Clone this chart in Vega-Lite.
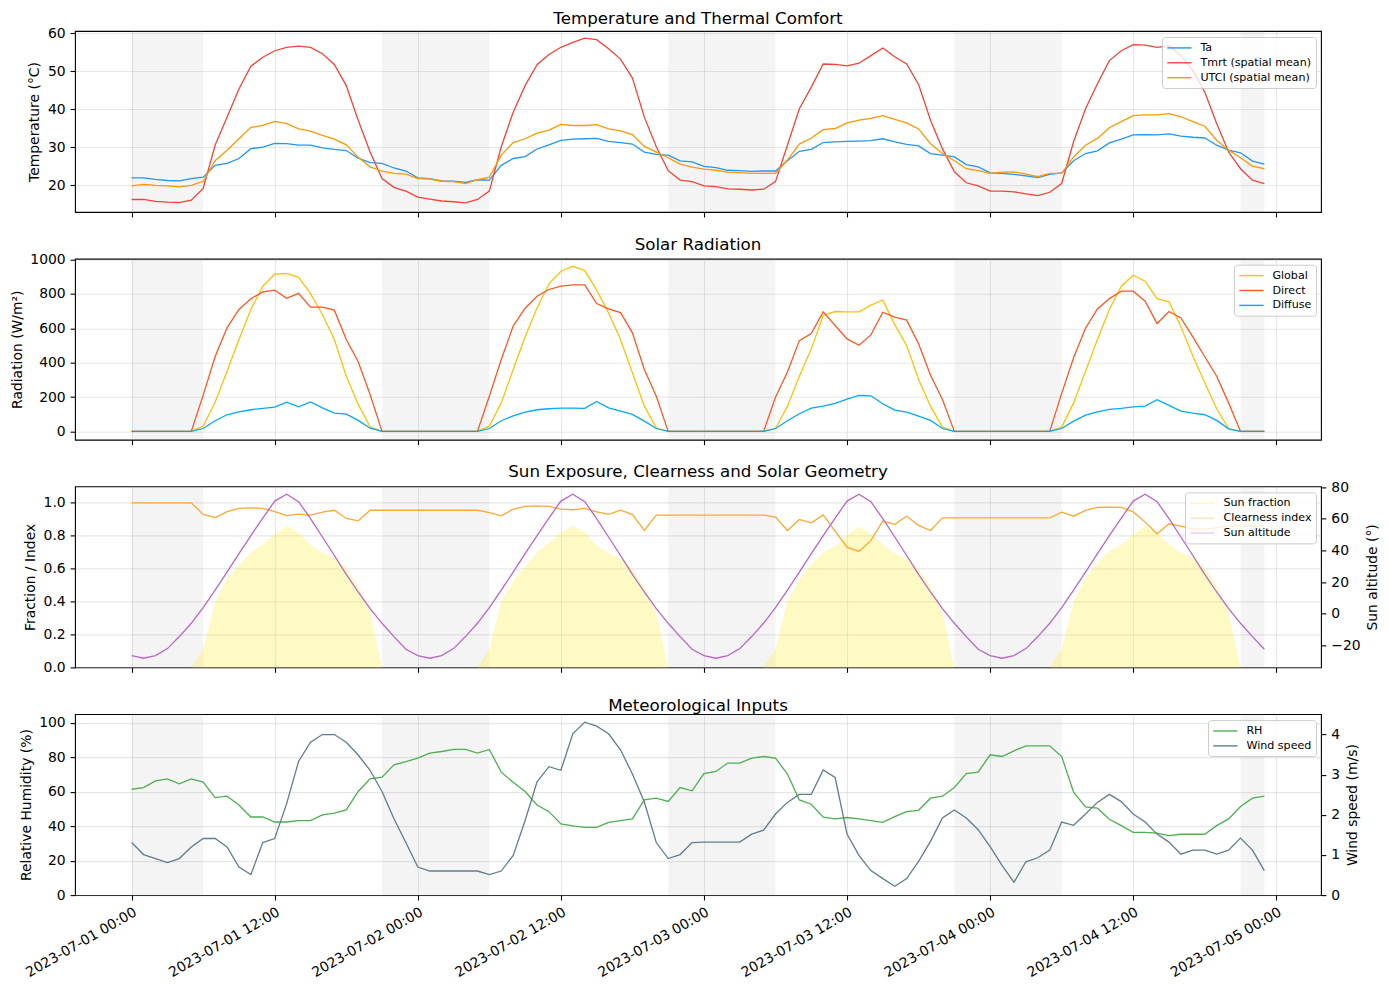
{
"$schema": "https://vega.github.io/schema/vega-lite/v6.json",
"padding": {"left": 9, "top": 10, "right": 5, "bottom": 5},
"spacing": 46.7,
"bounds": "flush",
"resolve": {"scale": {"color": "independent"}, "legend": {"color": "independent"}},
"datasets": {
"nights": [
{"t": "2023-07-01T00:00", "t2": "2023-07-01T06:00"},
{"t": "2023-07-01T21:00", "t2": "2023-07-02T06:00"},
{"t": "2023-07-02T21:00", "t2": "2023-07-03T06:00"},
{"t": "2023-07-03T21:00", "t2": "2023-07-04T06:00"},
{"t": "2023-07-04T21:00", "t2": "2023-07-04T23:00"}
],
"d": [
{"t":"2023-07-01T00:00","Ta":21.9,"Tmrt":16.2,"UTCI":19.8,"Global":0,"Direct":0,"Diffuse":0,"SunFraction":0,"Clearness":1.0,"SunAlt":-26.5,"RH":61.4,"Wind":1.31},
{"t":"2023-07-01T01:00","Ta":21.9,"Tmrt":16.2,"UTCI":20.2,"Global":0,"Direct":0,"Diffuse":0,"SunFraction":0,"Clearness":1.0,"SunAlt":-28.2,"RH":62.4,"Wind":1.01},
{"t":"2023-07-01T02:00","Ta":21.5,"Tmrt":15.7,"UTCI":19.9,"Global":0,"Direct":0,"Diffuse":0,"SunFraction":0,"Clearness":1.0,"SunAlt":-26.5,"RH":66.3,"Wind":0.91},
{"t":"2023-07-01T03:00","Ta":21.2,"Tmrt":15.5,"UTCI":19.8,"Global":0,"Direct":0,"Diffuse":0,"SunFraction":0,"Clearness":1.0,"SunAlt":-22.1,"RH":67.4,"Wind":0.81},
{"t":"2023-07-01T04:00","Ta":21.1,"Tmrt":15.4,"UTCI":19.5,"Global":0,"Direct":0,"Diffuse":0,"SunFraction":0,"Clearness":1.0,"SunAlt":-14.5,"RH":64.5,"Wind":0.91},
{"t":"2023-07-01T05:00","Ta":21.7,"Tmrt":16.0,"UTCI":19.9,"Global":0,"Direct":0,"Diffuse":0,"SunFraction":0,"Clearness":1.0,"SunAlt":-6.1,"RH":67.4,"Wind":1.20},
{"t":"2023-07-01T06:00","Ta":22.1,"Tmrt":19.1,"UTCI":21.0,"Global":31,"Direct":211,"Diffuse":17,"SunFraction":0.11,"Clearness":0.93,"SunAlt":3.8,"RH":65.5,"Wind":1.41},
{"t":"2023-07-01T07:00","Ta":25.2,"Tmrt":30.5,"UTCI":26.4,"Global":170,"Direct":434,"Diffuse":62,"SunFraction":0.40,"Clearness":0.91,"SunAlt":14.9,"RH":56.6,"Wind":1.41},
{"t":"2023-07-01T08:00","Ta":25.7,"Tmrt":37.9,"UTCI":29.2,"Global":350,"Direct":602,"Diffuse":97,"SunFraction":0.54,"Clearness":0.947,"SunAlt":26.3,"RH":57.4,"Wind":1.20},
{"t":"2023-07-01T09:00","Ta":27.0,"Tmrt":45.3,"UTCI":32.2,"Global":534,"Direct":709,"Diffuse":114,"SunFraction":0.62,"Clearness":0.966,"SunAlt":38.0,"RH":52.3,"Wind":0.70},
{"t":"2023-07-01T10:00","Ta":29.6,"Tmrt":51.3,"UTCI":35.2,"Global":709,"Direct":771,"Diffuse":126,"SunFraction":0.70,"Clearness":0.97,"SunAlt":49.4,"RH":45.3,"Wind":0.51},
{"t":"2023-07-01T11:00","Ta":30.0,"Tmrt":53.7,"UTCI":35.7,"Global":844,"Direct":811,"Diffuse":134,"SunFraction":0.745,"Clearness":0.966,"SunAlt":60.5,"RH":45.3,"Wind":1.31},
{"t":"2023-07-01T12:00","Ta":31.0,"Tmrt":55.4,"UTCI":36.8,"Global":914,"Direct":821,"Diffuse":141,"SunFraction":0.81,"Clearness":0.947,"SunAlt":71.2,"RH":42.4,"Wind":1.41},
{"t":"2023-07-01T13:00","Ta":30.9,"Tmrt":56.3,"UTCI":36.2,"Global":918,"Direct":774,"Diffuse":170,"SunFraction":0.86,"Clearness":0.923,"SunAlt":75.6,"RH":42.4,"Wind":2.28},
{"t":"2023-07-01T14:00","Ta":30.5,"Tmrt":56.6,"UTCI":34.8,"Global":896,"Direct":803,"Diffuse":143,"SunFraction":0.82,"Clearness":0.931,"SunAlt":70.8,"RH":43.2,"Wind":3.33},
{"t":"2023-07-01T15:00","Ta":30.5,"Tmrt":56.3,"UTCI":34.2,"Global":801,"Direct":722,"Diffuse":172,"SunFraction":0.745,"Clearness":0.925,"SunAlt":60.1,"RH":43.2,"Wind":3.81},
{"t":"2023-07-01T16:00","Ta":29.8,"Tmrt":54.6,"UTCI":33.1,"Global":680,"Direct":722,"Diffuse":137,"SunFraction":0.695,"Clearness":0.944,"SunAlt":48.5,"RH":46.5,"Wind":4.0},
{"t":"2023-07-01T17:00","Ta":29.4,"Tmrt":51.8,"UTCI":32.1,"Global":534,"Direct":705,"Diffuse":106,"SunFraction":0.665,"Clearness":0.955,"SunAlt":36.8,"RH":47.5,"Wind":4.0},
{"t":"2023-07-01T18:00","Ta":29.1,"Tmrt":46.2,"UTCI":30.6,"Global":321,"Direct":534,"Diffuse":101,"SunFraction":0.604,"Clearness":0.905,"SunAlt":24.8,"RH":49.4,"Wind":3.81},
{"t":"2023-07-01T19:00","Ta":27.1,"Tmrt":37.1,"UTCI":27.3,"Global":157,"Direct":405,"Diffuse":64,"SunFraction":0.493,"Clearness":0.891,"SunAlt":13.7,"RH":60.1,"Wind":3.49},
{"t":"2023-07-01T20:00","Ta":25.9,"Tmrt":28.7,"UTCI":24.8,"Global":27,"Direct":215,"Diffuse":19,"SunFraction":0.341,"Clearness":0.955,"SunAlt":3.2,"RH":67.4,"Wind":3.11},
{"t":"2023-07-01T21:00","Ta":25.7,"Tmrt":21.7,"UTCI":23.7,"Global":0,"Direct":0,"Diffuse":0,"SunFraction":0,"Clearness":0.955,"SunAlt":-6.1,"RH":68.4,"Wind":2.58},
{"t":"2023-07-01T22:00","Ta":24.5,"Tmrt":19.4,"UTCI":23.1,"Global":0,"Direct":0,"Diffuse":0,"SunFraction":0,"Clearness":0.955,"SunAlt":-14.5,"RH":75.6,"Wind":1.90},
{"t":"2023-07-01T23:00","Ta":23.7,"Tmrt":18.4,"UTCI":22.9,"Global":0,"Direct":0,"Diffuse":0,"SunFraction":0,"Clearness":0.955,"SunAlt":-22.5,"RH":77.5,"Wind":1.31},
{"t":"2023-07-02T00:00","Ta":21.9,"Tmrt":16.8,"UTCI":21.7,"Global":0,"Direct":0,"Diffuse":0,"SunFraction":0,"Clearness":0.955,"SunAlt":-26.5,"RH":79.5,"Wind":0.70},
{"t":"2023-07-02T01:00","Ta":21.7,"Tmrt":16.3,"UTCI":21.6,"Global":0,"Direct":0,"Diffuse":0,"SunFraction":0,"Clearness":0.955,"SunAlt":-28.2,"RH":82.4,"Wind":0.60},
{"t":"2023-07-02T02:00","Ta":21.1,"Tmrt":15.8,"UTCI":21.0,"Global":0,"Direct":0,"Diffuse":0,"SunFraction":0,"Clearness":0.955,"SunAlt":-26.5,"RH":83.3,"Wind":0.60},
{"t":"2023-07-02T03:00","Ta":21.0,"Tmrt":15.6,"UTCI":20.9,"Global":0,"Direct":0,"Diffuse":0,"SunFraction":0,"Clearness":0.955,"SunAlt":-22.1,"RH":84.5,"Wind":0.60},
{"t":"2023-07-02T04:00","Ta":20.7,"Tmrt":15.3,"UTCI":20.4,"Global":0,"Direct":0,"Diffuse":0,"SunFraction":0,"Clearness":0.955,"SunAlt":-14.5,"RH":84.5,"Wind":0.60},
{"t":"2023-07-02T05:00","Ta":21.4,"Tmrt":16.2,"UTCI":21.4,"Global":0,"Direct":0,"Diffuse":0,"SunFraction":0,"Clearness":0.955,"SunAlt":-6.1,"RH":82.4,"Wind":0.60},
{"t":"2023-07-02T06:00","Ta":21.3,"Tmrt":18.4,"UTCI":22.1,"Global":31,"Direct":205,"Diffuse":17,"SunFraction":0.11,"Clearness":0.94,"SunAlt":3.8,"RH":84.5,"Wind":0.51},
{"t":"2023-07-02T07:00","Ta":25.2,"Tmrt":30.1,"UTCI":27.9,"Global":166,"Direct":418,"Diffuse":62,"SunFraction":0.40,"Clearness":0.921,"SunAlt":14.9,"RH":71.3,"Wind":0.60},
{"t":"2023-07-02T08:00","Ta":27.0,"Tmrt":39.2,"UTCI":31.2,"Global":360,"Direct":612,"Diffuse":91,"SunFraction":0.525,"Clearness":0.962,"SunAlt":26.3,"RH":65.5,"Wind":0.99},
{"t":"2023-07-02T09:00","Ta":27.5,"Tmrt":46.2,"UTCI":32.2,"Global":550,"Direct":716,"Diffuse":112,"SunFraction":0.61,"Clearness":0.978,"SunAlt":38.0,"RH":60.1,"Wind":1.86},
{"t":"2023-07-02T10:00","Ta":29.5,"Tmrt":51.7,"UTCI":33.7,"Global":718,"Direct":786,"Diffuse":126,"SunFraction":0.70,"Clearness":0.982,"SunAlt":49.4,"RH":52.3,"Wind":2.82},
{"t":"2023-07-02T11:00","Ta":30.6,"Tmrt":54.4,"UTCI":34.5,"Global":858,"Direct":825,"Diffuse":132,"SunFraction":0.758,"Clearness":0.978,"SunAlt":60.5,"RH":48.4,"Wind":3.20},
{"t":"2023-07-02T12:00","Ta":31.8,"Tmrt":56.3,"UTCI":36.0,"Global":931,"Direct":844,"Diffuse":136,"SunFraction":0.818,"Clearness":0.962,"SunAlt":71.2,"RH":41.3,"Wind":3.11},
{"t":"2023-07-02T13:00","Ta":32.1,"Tmrt":57.6,"UTCI":35.7,"Global":960,"Direct":852,"Diffuse":136,"SunFraction":0.859,"Clearness":0.958,"SunAlt":75.6,"RH":40.1,"Wind":4.02},
{"t":"2023-07-02T14:00","Ta":32.2,"Tmrt":58.7,"UTCI":35.7,"Global":935,"Direct":852,"Diffuse":134,"SunFraction":0.822,"Clearness":0.966,"SunAlt":70.8,"RH":39.3,"Wind":4.31},
{"t":"2023-07-02T15:00","Ta":32.3,"Tmrt":58.3,"UTCI":35.9,"Global":821,"Direct":743,"Diffuse":174,"SunFraction":0.741,"Clearness":0.945,"SunAlt":60.1,"RH":39.3,"Wind":4.21},
{"t":"2023-07-02T16:00","Ta":31.5,"Tmrt":55.9,"UTCI":34.8,"Global":689,"Direct":712,"Diffuse":137,"SunFraction":0.693,"Clearness":0.93,"SunAlt":48.5,"RH":42.2,"Wind":4.02},
{"t":"2023-07-02T17:00","Ta":31.2,"Tmrt":53.2,"UTCI":34.3,"Global":534,"Direct":691,"Diffuse":118,"SunFraction":0.66,"Clearness":0.955,"SunAlt":36.8,"RH":43.2,"Wind":3.62},
{"t":"2023-07-02T18:00","Ta":30.8,"Tmrt":48.2,"UTCI":33.3,"Global":341,"Direct":573,"Diffuse":99,"SunFraction":0.596,"Clearness":0.929,"SunAlt":24.8,"RH":44.2,"Wind":3.02},
{"t":"2023-07-02T19:00","Ta":28.7,"Tmrt":37.9,"UTCI":30.2,"Global":147,"Direct":360,"Diffuse":60,"SunFraction":0.485,"Clearness":0.832,"SunAlt":13.7,"RH":55.2,"Wind":2.32},
{"t":"2023-07-02T20:00","Ta":28.1,"Tmrt":30.1,"UTCI":28.7,"Global":21,"Direct":205,"Diffuse":17,"SunFraction":0.33,"Clearness":0.925,"SunAlt":3.2,"RH":56.2,"Wind":1.31},
{"t":"2023-07-02T21:00","Ta":27.9,"Tmrt":23.8,"UTCI":27.2,"Global":0,"Direct":0,"Diffuse":0,"SunFraction":0,"Clearness":0.925,"SunAlt":-6.1,"RH":54.3,"Wind":0.91},
{"t":"2023-07-02T22:00","Ta":26.4,"Tmrt":21.3,"UTCI":25.5,"Global":0,"Direct":0,"Diffuse":0,"SunFraction":0,"Clearness":0.925,"SunAlt":-14.5,"RH":62.4,"Wind":1.01},
{"t":"2023-07-02T23:00","Ta":26.1,"Tmrt":20.9,"UTCI":24.7,"Global":0,"Direct":0,"Diffuse":0,"SunFraction":0,"Clearness":0.925,"SunAlt":-22.5,"RH":60.5,"Wind":1.31},
{"t":"2023-07-03T00:00","Ta":24.9,"Tmrt":19.8,"UTCI":24.2,"Global":0,"Direct":0,"Diffuse":0,"SunFraction":0,"Clearness":0.925,"SunAlt":-26.5,"RH":70.5,"Wind":1.32},
{"t":"2023-07-03T01:00","Ta":24.6,"Tmrt":19.6,"UTCI":23.9,"Global":0,"Direct":0,"Diffuse":0,"SunFraction":0,"Clearness":0.925,"SunAlt":-28.2,"RH":71.7,"Wind":1.32},
{"t":"2023-07-03T02:00","Ta":23.9,"Tmrt":19.0,"UTCI":23.4,"Global":0,"Direct":0,"Diffuse":0,"SunFraction":0,"Clearness":0.925,"SunAlt":-26.5,"RH":76.6,"Wind":1.32},
{"t":"2023-07-03T03:00","Ta":23.8,"Tmrt":18.9,"UTCI":23.3,"Global":0,"Direct":0,"Diffuse":0,"SunFraction":0,"Clearness":0.925,"SunAlt":-22.1,"RH":76.6,"Wind":1.32},
{"t":"2023-07-03T04:00","Ta":23.6,"Tmrt":18.7,"UTCI":23.1,"Global":0,"Direct":0,"Diffuse":0,"SunFraction":0,"Clearness":0.925,"SunAlt":-14.5,"RH":79.5,"Wind":1.52},
{"t":"2023-07-03T05:00","Ta":23.7,"Tmrt":18.9,"UTCI":23.1,"Global":0,"Direct":0,"Diffuse":0,"SunFraction":0,"Clearness":0.925,"SunAlt":-6.1,"RH":80.4,"Wind":1.62},
{"t":"2023-07-03T06:00","Ta":23.7,"Tmrt":20.9,"UTCI":23.1,"Global":17,"Direct":199,"Diffuse":17,"SunFraction":0.11,"Clearness":0.913,"SunAlt":3.8,"RH":79.5,"Wind":2.02},
{"t":"2023-07-03T07:00","Ta":26.4,"Tmrt":30.5,"UTCI":26.6,"Global":147,"Direct":345,"Diffuse":62,"SunFraction":0.40,"Clearness":0.832,"SunAlt":14.9,"RH":70.2,"Wind":2.31},
{"t":"2023-07-03T08:00","Ta":28.9,"Tmrt":40.1,"UTCI":30.8,"Global":321,"Direct":528,"Diffuse":103,"SunFraction":0.535,"Clearness":0.899,"SunAlt":26.3,"RH":55.2,"Wind":2.51},
{"t":"2023-07-03T09:00","Ta":29.4,"Tmrt":45.8,"UTCI":32.4,"Global":480,"Direct":569,"Diffuse":136,"SunFraction":0.626,"Clearness":0.879,"SunAlt":38.0,"RH":52.7,"Wind":2.51},
{"t":"2023-07-03T10:00","Ta":31.2,"Tmrt":51.9,"UTCI":34.6,"Global":674,"Direct":695,"Diffuse":147,"SunFraction":0.70,"Clearness":0.927,"SunAlt":49.4,"RH":45.2,"Wind":3.12},
{"t":"2023-07-03T11:00","Ta":31.4,"Tmrt":51.8,"UTCI":34.9,"Global":697,"Direct":616,"Diffuse":163,"SunFraction":0.737,"Clearness":0.828,"SunAlt":60.5,"RH":44.2,"Wind":2.93},
{"t":"2023-07-03T12:00","Ta":31.5,"Tmrt":51.4,"UTCI":36.4,"Global":695,"Direct":538,"Diffuse":188,"SunFraction":0.802,"Clearness":0.731,"SunAlt":71.2,"RH":45.0,"Wind":1.52},
{"t":"2023-07-03T13:00","Ta":31.6,"Tmrt":52.1,"UTCI":37.1,"Global":695,"Direct":501,"Diffuse":209,"SunFraction":0.855,"Clearness":0.705,"SunAlt":75.6,"RH":44.2,"Wind":0.99},
{"t":"2023-07-03T14:00","Ta":31.7,"Tmrt":54.1,"UTCI":37.6,"Global":734,"Direct":561,"Diffuse":207,"SunFraction":0.814,"Clearness":0.772,"SunAlt":70.8,"RH":43.2,"Wind":0.61},
{"t":"2023-07-03T15:00","Ta":32.2,"Tmrt":56.1,"UTCI":38.3,"Global":763,"Direct":693,"Diffuse":161,"SunFraction":0.747,"Clearness":0.889,"SunAlt":60.1,"RH":42.2,"Wind":0.41},
{"t":"2023-07-03T16:00","Ta":31.4,"Tmrt":53.8,"UTCI":37.3,"Global":621,"Direct":664,"Diffuse":124,"SunFraction":0.693,"Clearness":0.869,"SunAlt":48.5,"RH":45.5,"Wind":0.22},
{"t":"2023-07-03T17:00","Ta":30.7,"Tmrt":51.9,"UTCI":36.4,"Global":499,"Direct":647,"Diffuse":112,"SunFraction":0.66,"Clearness":0.919,"SunAlt":36.8,"RH":48.4,"Wind":0.41},
{"t":"2023-07-03T18:00","Ta":30.3,"Tmrt":46.5,"UTCI":34.8,"Global":302,"Direct":509,"Diffuse":89,"SunFraction":0.60,"Clearness":0.863,"SunAlt":24.8,"RH":49.2,"Wind":0.84},
{"t":"2023-07-03T19:00","Ta":28.3,"Tmrt":37.1,"UTCI":30.9,"Global":147,"Direct":327,"Diffuse":64,"SunFraction":0.495,"Clearness":0.832,"SunAlt":13.7,"RH":56.2,"Wind":1.34},
{"t":"2023-07-03T20:00","Ta":27.9,"Tmrt":29.6,"UTCI":28.3,"Global":25,"Direct":186,"Diffuse":17,"SunFraction":0.33,"Clearness":0.909,"SunAlt":3.2,"RH":57.4,"Wind":1.92},
{"t":"2023-07-03T21:00","Ta":27.4,"Tmrt":23.5,"UTCI":26.4,"Global":0,"Direct":0,"Diffuse":0,"SunFraction":0,"Clearness":0.909,"SunAlt":-6.1,"RH":62.4,"Wind":2.12},
{"t":"2023-07-03T22:00","Ta":25.4,"Tmrt":20.6,"UTCI":24.3,"Global":0,"Direct":0,"Diffuse":0,"SunFraction":0,"Clearness":0.909,"SunAlt":-14.5,"RH":70.5,"Wind":1.92},
{"t":"2023-07-03T23:00","Ta":24.8,"Tmrt":19.8,"UTCI":23.8,"Global":0,"Direct":0,"Diffuse":0,"SunFraction":0,"Clearness":0.909,"SunAlt":-22.5,"RH":71.3,"Wind":1.63},
{"t":"2023-07-04T00:00","Ta":23.2,"Tmrt":18.4,"UTCI":23.1,"Global":0,"Direct":0,"Diffuse":0,"SunFraction":0,"Clearness":0.909,"SunAlt":-26.5,"RH":81.4,"Wind":1.21},
{"t":"2023-07-04T01:00","Ta":23.1,"Tmrt":18.4,"UTCI":23.4,"Global":0,"Direct":0,"Diffuse":0,"SunFraction":0,"Clearness":0.909,"SunAlt":-28.2,"RH":80.4,"Wind":0.74},
{"t":"2023-07-04T02:00","Ta":22.8,"Tmrt":18.2,"UTCI":23.5,"Global":0,"Direct":0,"Diffuse":0,"SunFraction":0,"Clearness":0.909,"SunAlt":-26.5,"RH":83.7,"Wind":0.32},
{"t":"2023-07-04T03:00","Ta":22.4,"Tmrt":17.7,"UTCI":22.9,"Global":0,"Direct":0,"Diffuse":0,"SunFraction":0,"Clearness":0.909,"SunAlt":-22.1,"RH":86.6,"Wind":0.83},
{"t":"2023-07-04T04:00","Ta":22.0,"Tmrt":17.2,"UTCI":22.2,"Global":0,"Direct":0,"Diffuse":0,"SunFraction":0,"Clearness":0.909,"SunAlt":-14.5,"RH":86.6,"Wind":0.93},
{"t":"2023-07-04T05:00","Ta":22.8,"Tmrt":18.1,"UTCI":23.1,"Global":0,"Direct":0,"Diffuse":0,"SunFraction":0,"Clearness":0.909,"SunAlt":-6.1,"RH":86.6,"Wind":1.12},
{"t":"2023-07-04T06:00","Ta":23.2,"Tmrt":20.4,"UTCI":23.1,"Global":25,"Direct":221,"Diffuse":17,"SunFraction":0.11,"Clearness":0.943,"SunAlt":3.8,"RH":80.4,"Wind":1.82},
{"t":"2023-07-04T07:00","Ta":26.4,"Tmrt":31.4,"UTCI":27.4,"Global":166,"Direct":428,"Diffuse":60,"SunFraction":0.40,"Clearness":0.919,"SunAlt":14.9,"RH":59.7,"Wind":1.74},
{"t":"2023-07-04T08:00","Ta":28.3,"Tmrt":40.1,"UTCI":30.5,"Global":350,"Direct":600,"Diffuse":95,"SunFraction":0.545,"Clearness":0.954,"SunAlt":26.3,"RH":51.2,"Wind":2.02},
{"t":"2023-07-04T09:00","Ta":29.0,"Tmrt":46.7,"UTCI":32.3,"Global":534,"Direct":712,"Diffuse":114,"SunFraction":0.632,"Clearness":0.972,"SunAlt":38.0,"RH":50.4,"Wind":2.31},
{"t":"2023-07-04T10:00","Ta":31.1,"Tmrt":52.8,"UTCI":35.1,"Global":709,"Direct":772,"Diffuse":128,"SunFraction":0.707,"Clearness":0.974,"SunAlt":49.4,"RH":44.0,"Wind":2.51},
{"t":"2023-07-04T11:00","Ta":32.1,"Tmrt":55.4,"UTCI":36.7,"Global":844,"Direct":815,"Diffuse":134,"SunFraction":0.745,"Clearness":0.972,"SunAlt":60.5,"RH":40.3,"Wind":2.33},
{"t":"2023-07-04T12:00","Ta":33.2,"Tmrt":57.0,"UTCI":38.3,"Global":908,"Direct":815,"Diffuse":143,"SunFraction":0.808,"Clearness":0.945,"SunAlt":71.2,"RH":36.4,"Wind":2.02},
{"t":"2023-07-04T13:00","Ta":33.3,"Tmrt":56.9,"UTCI":38.5,"Global":873,"Direct":757,"Diffuse":147,"SunFraction":0.859,"Clearness":0.883,"SunAlt":75.6,"RH":36.4,"Wind":1.82},
{"t":"2023-07-04T14:00","Ta":33.2,"Tmrt":56.3,"UTCI":38.5,"Global":772,"Direct":627,"Diffuse":184,"SunFraction":0.818,"Clearness":0.812,"SunAlt":70.8,"RH":35.9,"Wind":1.52},
{"t":"2023-07-04T15:00","Ta":33.5,"Tmrt":56.7,"UTCI":38.8,"Global":753,"Direct":697,"Diffuse":151,"SunFraction":0.747,"Clearness":0.873,"SunAlt":60.1,"RH":34.5,"Wind":1.32},
{"t":"2023-07-04T16:00","Ta":32.9,"Tmrt":54.1,"UTCI":38.0,"Global":608,"Direct":660,"Diffuse":118,"SunFraction":0.697,"Clearness":0.859,"SunAlt":48.5,"RH":35.3,"Wind":1.02},
{"t":"2023-07-04T17:00","Ta":32.6,"Tmrt":50.2,"UTCI":36.7,"Global":438,"Direct":550,"Diffuse":106,"SunFraction":0.667,"Clearness":0.84,"SunAlt":36.8,"RH":35.3,"Wind":1.12},
{"t":"2023-07-04T18:00","Ta":32.4,"Tmrt":44.5,"UTCI":35.5,"Global":283,"Direct":434,"Diffuse":97,"SunFraction":0.606,"Clearness":0.84,"SunAlt":24.8,"RH":35.3,"Wind":1.12},
{"t":"2023-07-04T19:00","Ta":30.5,"Tmrt":36.2,"UTCI":31.8,"Global":132,"Direct":321,"Diffuse":64,"SunFraction":0.495,"Clearness":0.85,"SunAlt":13.7,"RH":40.3,"Wind":1.02},
{"t":"2023-07-04T20:00","Ta":29.2,"Tmrt":28.7,"UTCI":29.2,"Global":17,"Direct":166,"Diffuse":15,"SunFraction":0.33,"Clearness":0.86,"SunAlt":3.2,"RH":44.2,"Wind":1.12},
{"t":"2023-07-04T21:00","Ta":28.5,"Tmrt":24.3,"UTCI":27.2,"Global":0,"Direct":0,"Diffuse":0,"SunFraction":0,"Clearness":0.86,"SunAlt":-6.1,"RH":51.4,"Wind":1.42},
{"t":"2023-07-04T22:00","Ta":26.3,"Tmrt":21.3,"UTCI":25.0,"Global":0,"Direct":0,"Diffuse":0,"SunFraction":0,"Clearness":0.86,"SunAlt":-14.5,"RH":56.2,"Wind":1.12},
{"t":"2023-07-04T23:00","Ta":25.5,"Tmrt":20.4,"UTCI":24.3,"Global":0,"Direct":0,"Diffuse":0,"SunFraction":0,"Clearness":0.86,"SunAlt":-22.5,"RH":57.4,"Wind":0.61}
]
},
"vconcat": [
{
"title": "Temperature and Thermal Comfort",
"width": 1246, "height": 181,
"encoding": {"x": {"field": "t", "type": "temporal",
  "scale": {"domain": [{"year":2023,"month":6,"date":30,"hours":19,"minutes":15},{"year":2023,"month":7,"date":5,"hours":3,"minutes":45}], "nice": false},
  "axis": {"title": null, "labels": false, "grid": true, "values": [{"year":2023,"month":7,"date":1,"hours":0},{"year":2023,"month":7,"date":1,"hours":12},{"year":2023,"month":7,"date":2,"hours":0},{"year":2023,"month":7,"date":2,"hours":12},{"year":2023,"month":7,"date":3,"hours":0},{"year":2023,"month":7,"date":3,"hours":12},{"year":2023,"month":7,"date":4,"hours":0},{"year":2023,"month":7,"date":4,"hours":12},{"year":2023,"month":7,"date":5,"hours":0}]}}},
"layer": [
 {"data": {"name": "nights"}, "mark": {"type": "rect", "color": "gray", "opacity": 0.09}, "encoding": {"x2": {"field": "t2"}}},
 {"data": {"name": "d"}, "transform": [{"fold": ["Ta", "Tmrt", "UTCI"], "as": ["series", "value"]}],
  "mark": {"type": "line", "strokeWidth": 1.3},
  "encoding": {
   "y": {"field": "value", "type": "quantitative", "scale": {"domain": [12.9, 60.6], "nice": false, "zero": false}, "axis": {"title": "Temperature (°C)", "values": [20, 30, 40, 50, 60], "format": "d", "grid": true}},
   "color": {"field": "series", "type": "nominal", "scale": {"domain": ["Ta", "Tmrt", "UTCI"], "range": ["#2196F3", "#F44336", "#FF9800"]},
     "legend": {"title": null, "symbolType": "M-2.2,0H2.2", "labelExpr": "datum.label === 'Tmrt' ? 'Tmrt (spatial mean)' : datum.label === 'UTCI' ? 'UTCI (spatial mean)' : datum.label"}}
  }}
]
},
{
"title": "Solar Radiation",
"width": 1246, "height": 181,
"encoding": {"x": {"field": "t", "type": "temporal",
  "scale": {"domain": [{"year":2023,"month":6,"date":30,"hours":19,"minutes":15},{"year":2023,"month":7,"date":5,"hours":3,"minutes":45}], "nice": false},
  "axis": {"title": null, "labels": false, "grid": true, "values": [{"year":2023,"month":7,"date":1,"hours":0},{"year":2023,"month":7,"date":1,"hours":12},{"year":2023,"month":7,"date":2,"hours":0},{"year":2023,"month":7,"date":2,"hours":12},{"year":2023,"month":7,"date":3,"hours":0},{"year":2023,"month":7,"date":3,"hours":12},{"year":2023,"month":7,"date":4,"hours":0},{"year":2023,"month":7,"date":4,"hours":12},{"year":2023,"month":7,"date":5,"hours":0}]}}},
"layer": [
 {"data": {"name": "nights"}, "mark": {"type": "rect", "color": "gray", "opacity": 0.09}, "encoding": {"x2": {"field": "t2"}}},
 {"data": {"name": "d"}, "transform": [{"fold": ["Global", "Direct", "Diffuse"], "as": ["series", "value"]}],
  "mark": {"type": "line", "strokeWidth": 1.3},
  "encoding": {
   "y": {"field": "value", "type": "quantitative", "scale": {"domain": [-48, 1004], "nice": false, "zero": false}, "axis": {"title": "Radiation (W/m²)", "values": [0, 200, 400, 600, 800, 1000], "format": "d", "grid": true}},
   "color": {"field": "series", "type": "nominal", "scale": {"domain": ["Global", "Direct", "Diffuse"], "range": ["#FFC107", "#FF5722", "#03A9F4"]},
     "legend": {"title": null, "symbolType": "M-2.2,0H2.2"}}
  }}
]
},
{
"title": "Sun Exposure, Clearness and Solar Geometry",
"width": 1246, "height": 181,
"encoding": {"x": {"field": "t", "type": "temporal",
  "scale": {"domain": [{"year":2023,"month":6,"date":30,"hours":19,"minutes":15},{"year":2023,"month":7,"date":5,"hours":3,"minutes":45}], "nice": false},
  "axis": {"title": null, "labels": false, "grid": true, "values": [{"year":2023,"month":7,"date":1,"hours":0},{"year":2023,"month":7,"date":1,"hours":12},{"year":2023,"month":7,"date":2,"hours":0},{"year":2023,"month":7,"date":2,"hours":12},{"year":2023,"month":7,"date":3,"hours":0},{"year":2023,"month":7,"date":3,"hours":12},{"year":2023,"month":7,"date":4,"hours":0},{"year":2023,"month":7,"date":4,"hours":12},{"year":2023,"month":7,"date":5,"hours":0}]}}},
"layer": [
 {"data": {"name": "nights"}, "mark": {"type": "rect", "color": "gray", "opacity": 0.09}, "encoding": {"x2": {"field": "t2"}}},
 {"data": {"name": "d"},
  "encoding": {"y": {"field": "value", "type": "quantitative", "scale": {"domain": [0, 1.1], "nice": false, "zero": false}, "axis": {"title": "Fraction / Index", "orient": "left", "values": [0, 0.2, 0.4, 0.6, 0.8, 1.0], "format": ".1f", "grid": true}}},
  "layer": [
   {"transform": [{"fold": ["SunFraction"], "as": ["series", "value"]}],
    "mark": {"type": "area", "opacity": 0.3},
    "encoding": {"color": {"field": "series", "type": "nominal", "scale": {"domain": ["SunFraction", "Clearness", "SunAlt"], "range": ["#FFEB3B", "#FFA733", "#B866C8"]},
      "legend": {"title": null, "symbolType": "M-2.2,0H2.2",
        "labelExpr": "datum.label === 'SunFraction' ? 'Sun fraction' : datum.label === 'Clearness' ? 'Clearness index' : 'Sun altitude'",
        "encode": {"symbols": {
          "shape": {"condition": {"test": "datum.value === 'SunFraction'", "value": "M-2.2,-0.75H2.2V0.75H-2.2Z"}, "value": "M-2.2,0H2.2"},
          "fill": {"condition": {"test": "datum.value === 'SunFraction'", "value": "#FFF09E"}, "value": "transparent"},
          "stroke": {"condition": [{"test": "datum.value === 'SunFraction'", "value": "transparent"}, {"test": "datum.value === 'Clearness'", "value": "#FFA733"}], "value": "#B866C8"},
          "strokeWidth": {"value": 1.4},
          "opacity": {"value": 1},
          "fillOpacity": {"value": 1},
          "strokeOpacity": {"value": 1}}}}}}},
   {"transform": [{"fold": ["Clearness"], "as": ["series", "value"]}],
    "mark": {"type": "line", "strokeWidth": 1.3},
    "encoding": {"color": {"field": "series", "type": "nominal", "scale": {"domain": ["SunFraction", "Clearness", "SunAlt"], "range": ["#FFEB3B", "#FFA733", "#B866C8"]}}}}
  ]},
 {"data": {"name": "d"}, "transform": [{"fold": ["SunAlt"], "as": ["series", "value"]}],
  "mark": {"type": "line", "strokeWidth": 1.3},
  "encoding": {
   "y": {"field": "value", "type": "quantitative", "scale": {"domain": [-34, 80.5], "nice": false, "zero": false}, "axis": {"title": "Sun altitude (°)", "orient": "right", "titleAngle": 270, "titleBaseline": "top", "values": [-20, 0, 20, 40, 60, 80], "format": "d", "grid": false}},
   "color": {"field": "series", "type": "nominal", "scale": {"domain": ["SunFraction", "Clearness", "SunAlt"], "range": ["#FFEB3B", "#FFA733", "#B866C8"]}}
  }}
],
"resolve": {"scale": {"y": "independent"}}
},
{
"title": "Meteorological Inputs",
"width": 1246, "height": 181,
"encoding": {"x": {"field": "t", "type": "temporal",
  "scale": {"domain": [{"year":2023,"month":6,"date":30,"hours":19,"minutes":15},{"year":2023,"month":7,"date":5,"hours":3,"minutes":45}], "nice": false},
  "axis": {"title": null, "labels": true, "grid": true, "format": "%Y-%m-%d %H:%M", "labelAngle": -30, "labelAlign": "right", "labelBaseline": "top", "values": [{"year":2023,"month":7,"date":1,"hours":0},{"year":2023,"month":7,"date":1,"hours":12},{"year":2023,"month":7,"date":2,"hours":0},{"year":2023,"month":7,"date":2,"hours":12},{"year":2023,"month":7,"date":3,"hours":0},{"year":2023,"month":7,"date":3,"hours":12},{"year":2023,"month":7,"date":4,"hours":0},{"year":2023,"month":7,"date":4,"hours":12},{"year":2023,"month":7,"date":5,"hours":0}]}}},
"layer": [
 {"data": {"name": "nights"}, "mark": {"type": "rect", "color": "gray", "opacity": 0.09}, "encoding": {"x2": {"field": "t2"}}},
 {"data": {"name": "d"}, "transform": [{"fold": ["RH"], "as": ["series", "value"]}],
  "mark": {"type": "line", "strokeWidth": 1.3},
  "encoding": {
   "y": {"field": "value", "type": "quantitative", "scale": {"domain": [0, 105], "nice": false, "zero": false}, "axis": {"title": "Relative Humidity (%)", "orient": "left", "values": [0, 20, 40, 60, 80, 100], "format": "d", "grid": true}},
   "color": {"field": "series", "type": "nominal", "scale": {"domain": ["RH", "Wind"], "range": ["#4CAF50", "#607D8B"]},
     "legend": {"title": null, "symbolType": "M-2.2,0H2.2", "labelExpr": "datum.label === 'Wind' ? 'Wind speed' : datum.label"}}
  }},
 {"data": {"name": "d"}, "transform": [{"fold": ["Wind"], "as": ["series", "value"]}],
  "mark": {"type": "line", "strokeWidth": 1.3},
  "encoding": {
   "y": {"field": "value", "type": "quantitative", "scale": {"domain": [0, 4.51], "nice": false, "zero": false}, "axis": {"title": "Wind speed (m/s)", "orient": "right", "titleAngle": 270, "titleBaseline": "top", "values": [0, 1, 2, 3, 4], "format": "d", "grid": false}},
   "color": {"field": "series", "type": "nominal", "scale": {"domain": ["RH", "Wind"], "range": ["#4CAF50", "#607D8B"]}}
  }}
],
"resolve": {"scale": {"y": "independent"}}
}
],
"config": {
 "font": "DejaVu Sans",
 "background": "white",
 "view": {"stroke": "black", "strokeWidth": 1.1},
 "axis": {"domain": false, "ticks": true, "tickColor": "black", "tickSize": 4.9, "tickWidth": 1.1, "labelFontSize": 13.9, "labelColor": "black", "labelPadding": 4.9, "titleFontSize": 13.9, "titleFontWeight": "normal", "titleColor": "black", "titlePadding": 5.6, "gridColor": "#b0b0b0", "gridOpacity": 0.3, "gridWidth": 1.1, "labelFlush": false, "labelOverlap": false},
 "title": {"fontSize": 16.7, "fontWeight": "normal", "color": "black", "offset": -1, "baseline": "bottom", "anchor": "middle"},
 "legend": {"orient": "top-right", "offset": 5.5, "labelFontSize": 11.1, "labelColor": "black", "symbolType": "M-2.2,0H2.2", "symbolSize": 121, "symbolOffset": 6.5, "symbolStrokeWidth": 1.4, "labelOffset": 14.5, "rowPadding": 2.9, "padding": 4.4, "fillColor": "rgba(255,255,255,0.8)", "strokeColor": "#cccccc", "cornerRadius": 3, "labelLimit": 300}
}
}
